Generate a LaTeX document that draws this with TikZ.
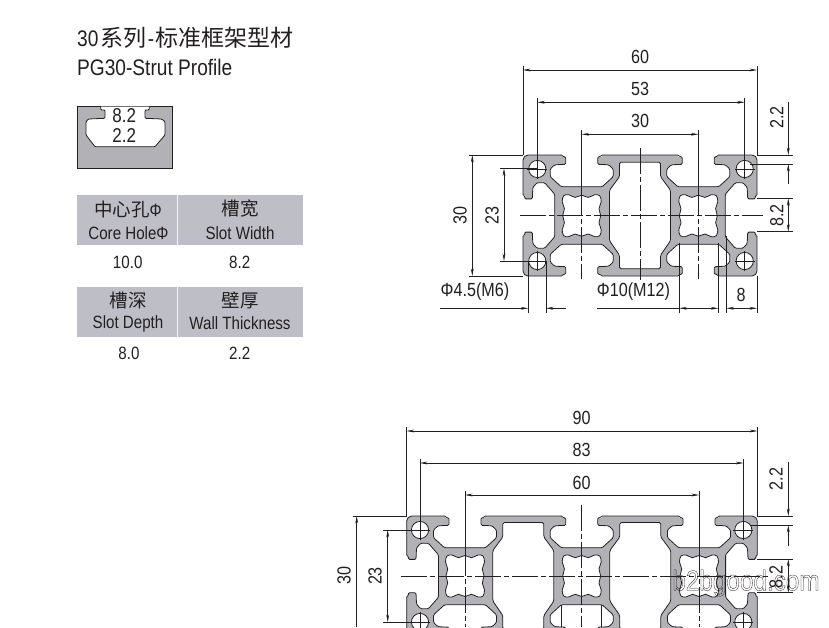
\documentclass[tikz,border=0pt]{standalone}
\usepackage{fontspec}
\setmainfont[FakeStretch=0.85]{Liberation Sans}
\newfontfamily\cjk{Noto Sans CJK SC}
\usetikzlibrary{arrows.meta}
\definecolor{ink}{RGB}{35,31,32}
\definecolor{metal}{RGB}{178,178,182}
\definecolor{band}{RGB}{190,190,198}

\tikzset{
  outline/.style={draw=ink, line width=0.8pt},
  dimline/.style={draw=ink, line width=0.55pt},
  extline/.style={draw=ink, line width=0.5pt},
  axisline/.style={draw=ink, line width=0.55pt, dash pattern=on 26pt off 3pt on 5pt off 3pt},
  dimtext/.style={font=\fontsize{19}{19}\selectfont, text=ink, inner sep=0pt},
  headtext/.style={font=\fontsize{17.8}{18}\selectfont, text=ink, inner sep=0pt},
}

\newcommand{\tslot}[3]{%
  \begin{scope}[shift={(#1,#2)}, #3]
    \fill[white] (-20,-1.2) rectangle (20,1.5);
    \draw[outline, fill=white, rounded corners=1.2pt] (-20,0) -- (-19,1.7) -- (-16,1.7) -- (-16,9.3) -- (-27,9.8) -- (-31.5,14) -- (-31.5,21.7) -- (-20.5,31.7)
      -- (20.5,31.7) -- (31.5,21.7) -- (31.5,14) -- (27,9.8) -- (16,9.3) -- (16,1.7) -- (19,1.7) -- (20,0);
  \end{scope}}
\newcommand{\corehole}[2]{%
  \draw[outline, fill=white, shift={(#1,#2)}] plot[smooth cycle, tension=0.55] coordinates {
    (-13,-21) (-6.5,-18.3) (0,-20.5) (6.5,-18.3) (13,-21) (18,-20) (19.5,-14) (17.3,-7) (19,0) (17.3,7) (19.5,14) (18,20)
    (13,21) (6.5,18.3) (0,20.5) (-6.5,18.3) (-13,21) (-18,20) (-19.5,14) (-17.3,7) (-19,0) (-17.3,-7) (-19.5,-14) (-18,-20)};}
\newcommand{\cavity}[2]{%
  \draw[outline, fill=white, shift={(#1,#2)}, rounded corners=1.5pt] (-20.5,-53.5) -- (20.5,-53.5) -- (20.5,-39) -- (30.5,-25.5) -- (30.5,25)
    -- (20.5,39.5) -- (20.5,53) -- (-20.5,53) -- (-20.5,39.5) -- (-30.5,25) -- (-30.5,-25.5) -- (-20.5,-39) -- cycle;}
\newcommand{\crosshole}[2]{%
  \draw[outline, fill=white] (#1,#2) circle (8.6);
  \draw[extline] (#1-10,#2) -- (#1+10,#2) (#1,#2-10) -- (#1,#2+10);}

\begin{document}
\begin{tikzpicture}[x=1pt, y=-1pt, >={Stealth[length=7.5pt,width=2.8pt]}]

\useasboundingbox (0,0) rectangle (829,627);
\clip (0,0) rectangle (829,627);

\node[anchor=west, inner sep=0pt, text=ink, font=\fontsize{22.5}{24}\selectfont] (title) at (77,38) {30\kern2pt{\cjk\fontsize{23}{24}\selectfont 系列}\kern1.5pt-\kern1.5pt{\cjk\fontsize{23}{24}\selectfont 标准框架型材}};
\node[anchor=west, inner sep=0pt, text=ink, font=\fontsize{22.5}{24}\selectfont] (subtitle) at (77,67) {PG30-Strut Profile};

\draw[outline, fill=metal] (77.3,106.7) rectangle (172.3,168.3);
\draw[outline, fill=white, rounded corners=1pt] (100.7,106.7) -- (100.7,110) -- (105,110) -- (105,118.3) -- (88.3,119) -- (86,121.7) -- (86,135) -- (95,146.7) -- (155,146.7) -- (165,135) -- (165,121.7) -- (161.7,119) -- (145,118.3) -- (145,110) -- (149.3,110) -- (149.3,106.7);
\node[dimtext, font=\fontsize{20}{20}\selectfont] (slotw) at (124.3,116) {8.2};
\node[dimtext, font=\fontsize{20}{20}\selectfont] (slotd) at (124.3,135.7) {2.2};

\foreach \rowtop in {195,286.7} {
  \fill[band] (77.3,\rowtop) rectangle (303,\rowtop+50);
  \draw[white!85!band, line width=0.7pt] (177,\rowtop) -- (177,\rowtop+50);
}
\node[headtext] (corecn) at (128,209.5) {{\cjk\fontsize{18.5}{19}\selectfont 中心孔}Φ};
\node[headtext] (coreen) at (128.5,232.7) {Core HoleΦ};
\node[headtext] (widecn) at (240,209) {\cjk\fontsize{18.5}{19}\selectfont 槽宽};
\node[headtext] (wideen) at (240,232.7) {Slot Width};
\node[headtext] (coreval) at (127.7,262.7) {10.0};
\node[headtext] (wideval) at (239.7,262.7) {8.2};
\node[headtext] (deepcn) at (128,300) {\cjk\fontsize{18.5}{19}\selectfont 槽深};
\node[headtext] (deepen) at (128,323.5) {Slot Depth};
\node[headtext] (wallcn) at (240,300) {\cjk\fontsize{18.5}{19}\selectfont 壁厚};
\node[headtext] (wallen) at (240,323.5) {Wall Thickness};
\node[headtext] (deepval) at (129,353.3) {8.0};
\node[headtext] (wallval) at (239.7,353.3) {2.2};

\draw[outline, fill=metal, rounded corners=5pt] (523,155) rectangle (757,276);
\foreach \cx in {581.7,698.3} {
  \tslot{\cx}{155}{}
  \tslot{\cx}{276}{rotate=180}
  \corehole{\cx}{215.7}
}
\tslot{523}{215.5}{rotate=90, xscale=1.04}
\tslot{757}{215.5}{rotate=-90, xscale=1.04}
\cavity{640}{215.7}
\foreach \hx in {537.3,744.7} {
  \crosshole{\hx}{169}
  \crosshole{\hx}{261}
}

\draw[axisline] (520,215.7) -- (763,215.7);
\draw[axisline] (640,148) -- (640,280);
\draw[extline] (581.7,130) -- (581.7,190) (698.3,130) -- (698.3,190);
\draw[axisline] (581.7,190) -- (581.7,279);
\draw[axisline] (698.3,190) -- (698.3,279);

\draw[extline] (523,66) -- (523,155) (757,66) -- (757,155);
\draw[dimline, <->] (523,70) -- (757,70);
\node[dimtext] (wa) at (640,57) {60};
\draw[extline] (537.3,98) -- (537.3,169) (744.7,98) -- (744.7,169);
\draw[dimline, <->] (537.3,102.3) -- (744.7,102.3);
\node[dimtext] (wb) at (640,89) {53};
\draw[dimline, <->] (581.7,134.3) -- (698.3,134.3);
\node[dimtext] (wc) at (640,121) {30};

\draw[extline] (469,155) -- (523,155) (469,276) -- (523,276);
\draw[dimline, <->] (472.3,155) -- (472.3,276);
\node[dimtext, rotate=90] (ha) at (460,215.7) {30};
\draw[extline] (500,168.5) -- (537.3,168.5) (500,261) -- (537.3,261);
\draw[dimline, <->] (504,168.5) -- (504,261);
\node[dimtext, rotate=90] (hb) at (492,215.7) {23};

\draw[extline] (757,155) -- (793,155) (750,164) -- (793,164);
\draw[dimline, ->] (788.3,101.7) -- (788.3,155);
\draw[dimline, ->] (788.3,184) -- (788.3,164);
\node[dimtext, rotate=90] (lip) at (776.7,117.3) {2.2};
\draw[extline] (757,198.3) -- (793,198.3) (757,231.7) -- (793,231.7);
\draw[dimline, <->] (788.3,198.3) -- (788.3,231.7);
\node[dimtext, rotate=90] (gap) at (776.7,215.7) {8.2};

\draw[extline] (528.3,261) -- (528.3,313) (546,261) -- (546,313);
\draw[dimline, ->] (440,308.3) -- (528.3,308.3);
\draw[dimline, ->] (565.7,308.3) -- (546,308.3);
\node[dimtext] (bolt) at (475,291.7) {Φ4.5(M6)};
\draw[extline] (679.3,243) -- (679.3,313) (718.3,243) -- (718.3,313) (726.5,236) -- (726.5,313) (757,276) -- (757,313);
\draw[dimline] (597,308.3) -- (679.3,308.3);
\draw[dimline, <->] (679.3,308.3) -- (718.3,308.3);
\node[dimtext] (bore) at (633.5,292) {Φ10(M12)};
\draw[dimline, <->] (726.5,308.3) -- (757,308.3);
\node[dimtext] (depth) at (741,295) {8};

\draw[outline, fill=metal, rounded corners=5pt] (406.7,516) rectangle (757.3,636.5);
\foreach \cx in {465,581.7,699} {
  \tslot{\cx}{516}{}
  \tslot{\cx}{636.5}{rotate=180}
  \corehole{\cx}{576}
}
\tslot{406.7}{576}{rotate=90, xscale=1.04}
\tslot{757.3}{576}{rotate=-90, xscale=1.04}
\cavity{523.3}{576}
\cavity{640.3}{576}
\foreach \hx in {420,743.3} {
  \crosshole{\hx}{530}
  \crosshole{\hx}{622}
}

\draw[axisline] (401,576) -- (768,576);
\draw[axisline] (581.7,505) -- (581.7,627);
\draw[extline] (465,491) -- (465,550) (699,491) -- (699,550);
\draw[axisline] (465,550) -- (465,627);
\draw[axisline] (699,550) -- (699,627);
\draw[extline] (561.7,605) -- (561.7,627) (601,605) -- (601,627);

\draw[extline] (406.7,427) -- (406.7,516) (757.3,427) -- (757.3,516);
\draw[dimline, <->] (406.7,431) -- (757.3,431);
\node[dimtext] (wd) at (581.7,418) {90};
\draw[extline] (420,459) -- (420,530) (743.3,459) -- (743.3,530);
\draw[dimline, <->] (420,463) -- (743.3,463);
\node[dimtext] (we) at (581.7,450) {83};
\draw[dimline, <->] (465,495) -- (699,495);
\node[dimtext] (wf) at (581.7,483) {60};

\draw[extline] (352.7,516) -- (406.7,516);
\draw[dimline, <-] (356.7,516) -- (356.7,627);
\node[dimtext, rotate=90] (hc) at (344,575.7) {30};
\draw[extline] (383,530) -- (420,530) (383,622) -- (420,622);
\draw[dimline, <->] (387.7,530) -- (387.7,622);
\node[dimtext, rotate=90] (hd) at (375,576) {23};

\draw[extline] (757.3,516) -- (793,516) (750,525) -- (793,525);
\draw[dimline, ->] (788.3,461.7) -- (788.3,516);
\draw[dimline, ->] (788.3,545.7) -- (788.3,525);
\node[dimtext, rotate=90] (lipb) at (776,479) {2.2};
\draw[extline] (757.3,559) -- (793,559) (757.3,592.7) -- (793,592.7);
\draw[dimline, <->] (788.3,559) -- (788.3,592.7);
\node[dimtext, rotate=90] (gapb) at (776,577) {8.2};

\node[inner sep=0pt, text=ink, font=\fontsize{28.6}{29}\selectfont] (mark) at (746,583) {\special{pdf:code 1 Tr 0.3 w}b2bgood.com\special{pdf:code 0 Tr}};

\end{tikzpicture}
\end{document}
